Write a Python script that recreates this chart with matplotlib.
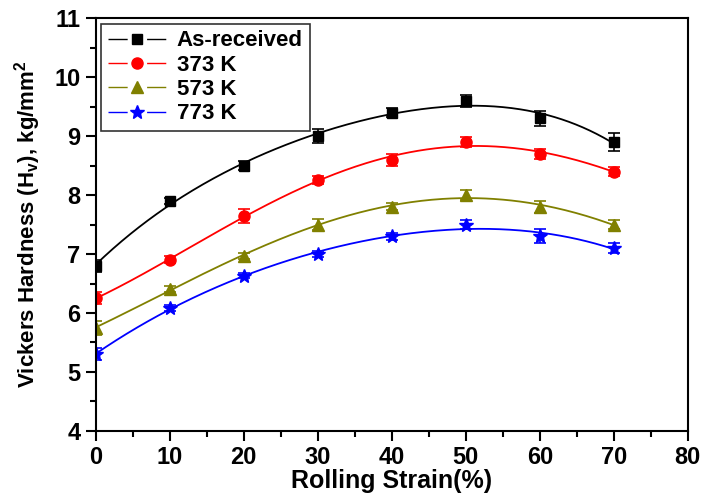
import numpy as np
import matplotlib
matplotlib.use("Agg")
import matplotlib.pyplot as plt
from matplotlib.ticker import MultipleLocator

plt.rcParams['font.family'] = ['Liberation Sans', 'DejaVu Sans']
plt.rcParams['font.weight'] = 'bold'
plt.rcParams['mathtext.default'] = 'regular'

strain = [0, 10, 20, 30, 40, 50, 60, 70]
labels = ['As-received', '373 K', '573 K', '773 K']
hv_asrec = [6.80, 7.90, 8.50, 9.00, 9.40, 9.60, 9.30, 8.90]
hv_373 = [6.25, 6.90, 7.65, 8.25, 8.60, 8.90, 8.70, 8.40]
hv_573 = [5.75, 6.40, 6.97, 7.50, 7.80, 8.00, 7.80, 7.50]
hv_773 = [5.30, 6.08, 6.63, 7.00, 7.30, 7.50, 7.30, 7.10]
err_asrec = [0.10, 0.05, 0.07, 0.12, 0.08, 0.10, 0.13, 0.15]
err_373 = [0.10, 0.06, 0.12, 0.07, 0.10, 0.08, 0.09, 0.07]
err_573 = [0.12, 0.05, 0.05, 0.10, 0.06, 0.08, 0.10, 0.08]
err_773 = [0.10, 0.05, 0.04, 0.05, 0.06, 0.08, 0.12, 0.08]

series = [hv_asrec, hv_373, hv_573, hv_773]
errors = [err_asrec, err_373, err_573, err_773]
colors = ['black', 'red', '#808000', 'blue']
markers = ['s', 'o', '^', '*']
msizes = [7, 8, 8, 10]

fig = plt.figure(figsize=(7.04, 4.93), dpi=100)
ax = fig.add_axes([0.136, 0.126, 0.841, 0.837])

leg_fs = 16
handlelen = 2.6
gap = 14.0
seg = (handlelen * leg_fs - gap) / 2.0

xs = np.linspace(0, 70, 300)
x = np.array(strain, dtype=float)
for y, e, c, m, ms, lab in zip(series, errors, colors, markers, msizes, labels):
    coef = np.polyfit(x, np.array(y), 4)
    ax.plot(xs, np.polyval(coef, xs), color=c, lw=1.3)
    ax.errorbar(x, y, yerr=e, fmt=m, color=c, ms=ms, capsize=4, elinewidth=1.2,
                capthick=1.2, linestyle='none')
    ax.plot([], [], color=c, marker=m, ms=ms, lw=1, dashes=(seg, gap), label=lab)

ax.set_xlim(0, 80)
ax.set_ylim(4, 11)
ax.xaxis.set_major_locator(MultipleLocator(10))
ax.xaxis.set_minor_locator(MultipleLocator(5))
ax.yaxis.set_major_locator(MultipleLocator(1))
ax.yaxis.set_minor_locator(MultipleLocator(0.5))
ax.tick_params(which='major', direction='out', length=7, width=1.5, labelsize=17, pad=4)
ax.tick_params(which='minor', direction='out', length=4, width=1.5)
for s in ax.spines.values():
    s.set_linewidth(1.5)
for lbl in ax.get_xticklabels() + ax.get_yticklabels():
    lbl.set_fontweight('bold')

ax.set_xlabel('Rolling Strain(%)', fontsize=18, fontweight='bold', labelpad=0)
ax.set_ylabel('Vickers Hardness (H$_v$), kg/mm$^2$', fontsize=16, fontweight='bold', labelpad=8)

leg = ax.legend(loc='upper left', fontsize=leg_fs, frameon=True, fancybox=False,
                edgecolor='black', borderaxespad=0.25, handlelength=handlelen,
                handletextpad=0.5, labelspacing=0.15, borderpad=0.3)
leg.get_frame().set_linewidth(1.2)
for t in leg.get_texts():
    t.set_fontweight('bold')

fig.savefig('out.png', dpi=100)
